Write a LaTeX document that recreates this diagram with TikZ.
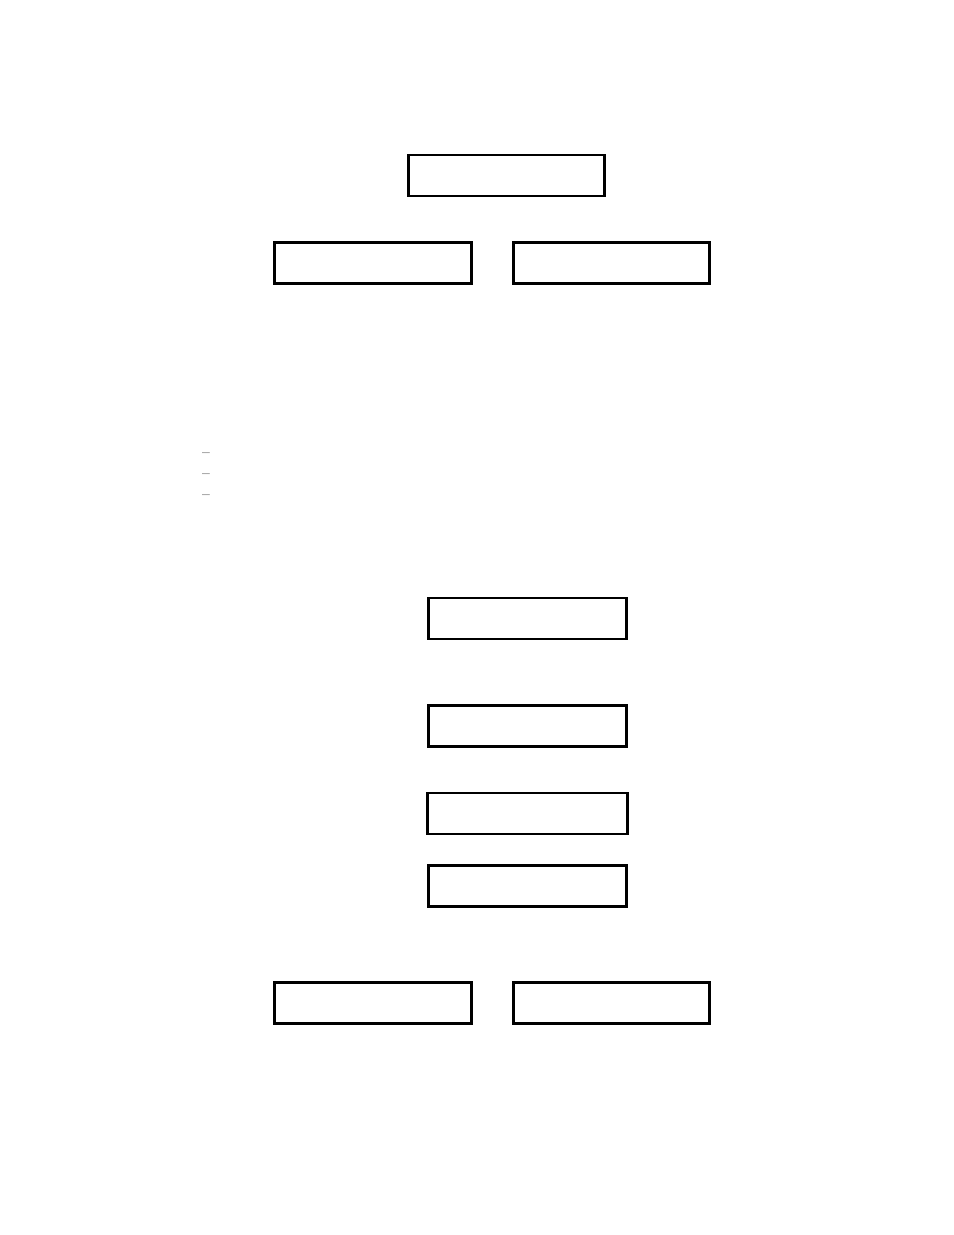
\documentclass[tikz,border=0pt]{standalone}
\usepackage{tikz}
\tikzset{cadre/.style={draw, line width=1.9pt, minimum width=125.8pt, minimum height=26.3pt, inner sep=0pt},
  tiret/.style={inner sep=0pt, font=\normalsize}}
\begin{document}
\begin{tikzpicture}[x=0.6415pt,y=-0.6415pt]
\useasboundingbox (0,0) rectangle (954,1235);
% boxes on top
\node [cadre] (haut) at (506.5,175.5) {};
\node [cadre] (hautg) at (373,263) {};
\node [cadre] (hautd) at (611.5,263) {};
% list
\node [tiret] (t1) at (206,455) {--};
\node [tiret] (t2) at (206,476) {--};
\node [tiret] (t3) at (206,497) {--};
% middle column
\node [cadre, minimum width=127pt] (m1) at (527.5,618.5) {};
\node [cadre, minimum width=127pt] (m2) at (527.5,726) {};
\node [cadre, minimum width=128.3pt] (m3) at (527.5,813.5) {};
\node [cadre, minimum width=127pt] (m4) at (527.5,886) {};
% boxes at the bottom
\node [cadre] (basg) at (373,1003) {};
\node [cadre] (basd) at (611.5,1003) {};
\end{tikzpicture}
\end{document}
